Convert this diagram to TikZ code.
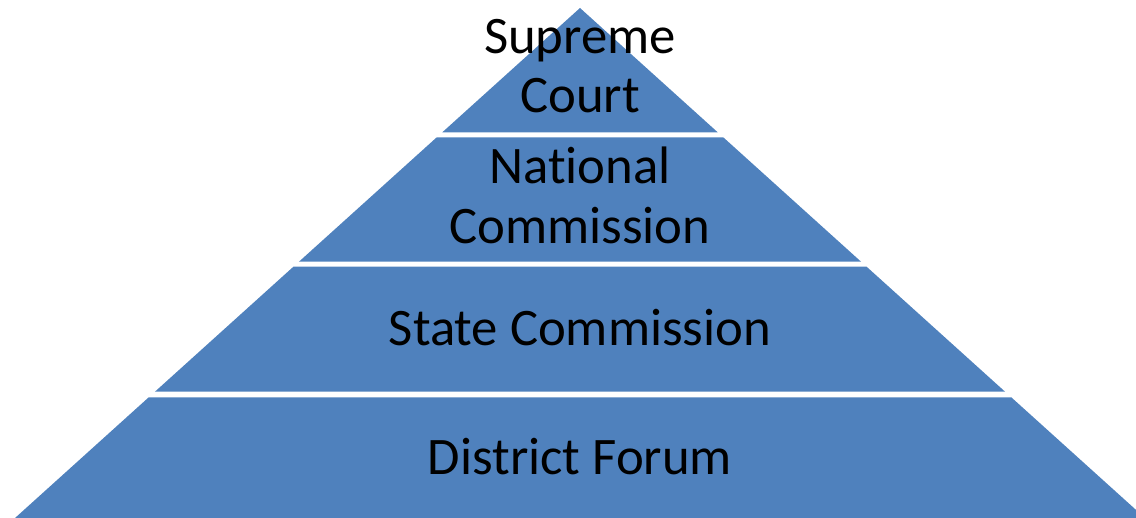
\documentclass[tikz,border=0pt]{standalone}
\usepackage{fontspec}
\setmainfont[Ligatures=NoCommon]{Carlito}
\definecolor{tierblue}{HTML}{4F81BD}

\begin{document}
\begin{tikzpicture}[x=0.025cm,y=-0.025cm]
\tikzstyle{tier} = [fill=tierblue, draw=none]
\tikzstyle{tiername} = [font=\fontsize{37.5}{42.5}\selectfont, align=center, inner sep=0pt, anchor=base]
\useasboundingbox (0,0) rectangle (1136,518);
\clip (0,0) rectangle (1136,518);
% four bands of one pyramid, apex at (580,8)
\foreach \ya/\yb in {8/132.3,137.3/261.7,266.7/391.7,397.3/518}
  \fill [tier] ({580-(\ya-8)*1.1078},\ya) -- ({580+(\ya-8)*1.1078},\ya) -- ({580+(\yb-8)*1.1078},\yb) -- ({580-(\yb-8)*1.1078},\yb) -- cycle;
\node [tiername] (court) at (580,113) {Supreme\\Court};
\node [tiername] (national) at (580,243) {National\\Commission};
\node [tiername] (state) at (580,345) {State Commission};
\node [tiername] (district) at (580,474) {District Forum};
\end{tikzpicture}
\end{document}
